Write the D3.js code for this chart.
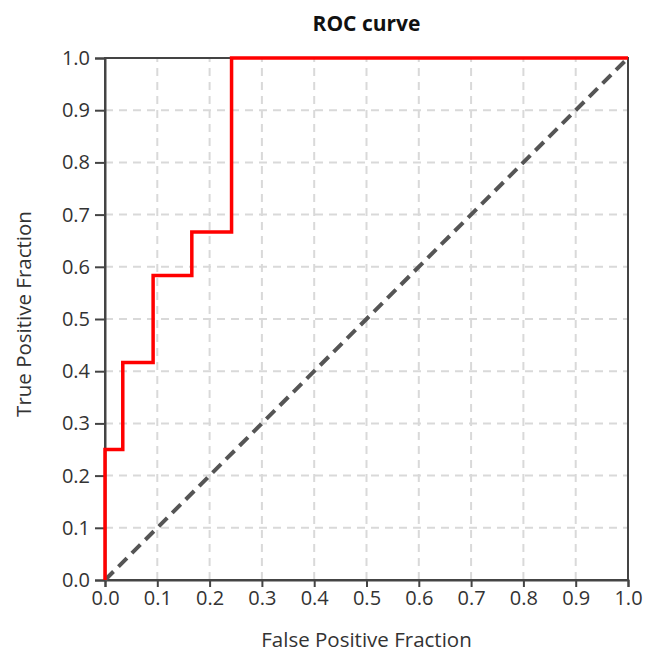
<!DOCTYPE html>
<html><head><meta charset="utf-8">
<script src="https://cdn.jsdelivr.net/npm/d3@7"></script>
<style>body{margin:0;background:#fff;} text{font-family:"Open Sans","Noto Sans",sans-serif;}</style>
</head><body>
<script>
const fpr = [0, 0, 0.034, 0.034, 0.092, 0.092, 0.166, 0.166, 0.242, 0.242, 1.0];
const tpr = [0, 0.25, 0.25, 0.4167, 0.4167, 0.5833, 0.5833, 0.6667, 0.6667, 1.0, 1.0];
const chanceX = [0, 1];
const chanceY = [0, 1];
const tickValues = [0,0.1,0.2,0.3,0.4,0.5,0.6,0.7,0.8,0.9,1.0];
const titleText = "ROC curve";
const xLabel = "False Positive Fraction";
const yLabel = "True Positive Fraction";

const W = 645, H = 653;
const m = {left:105, right:17, top:58, bottom:73};
const svg = d3.select("body").append("svg").attr("width",W).attr("height",H);
const x = d3.scaleLinear().domain([0,1]).range([m.left, W-m.right]);
const y = d3.scaleLinear().domain([0,1]).range([H-m.bottom, m.top]);

// grid
const g = svg.append("g");
g.selectAll(".gx").data(tickValues.slice(1,-1)).join("line")
  .attr("x1",d=>x(d)).attr("x2",d=>x(d)).attr("y1",y(0)).attr("y2",y(1))
  .attr("stroke","#d9d9d9").attr("stroke-width",2).attr("stroke-dasharray","8,6");
g.selectAll(".gy").data(tickValues.slice(1,-1)).join("line")
  .attr("y1",d=>y(d)).attr("y2",d=>y(d)).attr("x1",x(0)).attr("x2",x(1))
  .attr("stroke","#d9d9d9").attr("stroke-width",2).attr("stroke-dasharray","8,6");

// frame
svg.append("rect").attr("x",x(0)).attr("y",y(1)).attr("width",x(1)-x(0)).attr("height",y(0)-y(1))
  .attr("fill","none").attr("stroke","#444").attr("stroke-width",2);

// axes
const fmt = d3.format(".1f");
const xAxis = svg.append("g").attr("transform",`translate(0,${y(0)})`)
  .call(d3.axisBottom(x).tickValues(tickValues).tickFormat(fmt).tickSize(7).tickPadding(4));
const yAxis = svg.append("g").attr("transform",`translate(${x(0)},0)`)
  .call(d3.axisLeft(y).tickValues(tickValues).tickFormat(fmt).tickSize(10).tickPadding(5));
[xAxis,yAxis].forEach(a=>{
  a.select(".domain").attr("stroke","#444").attr("stroke-width",2);
  a.selectAll(".tick line").attr("stroke","#444").attr("stroke-width",2);
  a.selectAll(".tick text").attr("fill","#333").style("font-size","20px").style("font-family","'Open Sans',sans-serif");
});

// chance line
svg.append("path").datum(chanceX.map((d,i)=>[d,chanceY[i]]))
  .attr("d",d3.line().x(d=>x(d[0])).y(d=>y(d[1])))
  .attr("stroke","#555").attr("stroke-width",4).attr("stroke-dasharray","12,7").attr("fill","none");

// ROC
svg.append("path").datum(fpr.map((d,i)=>[d,tpr[i]]))
  .attr("d",d3.line().x(d=>x(d[0])).y(d=>y(d[1])))
  .attr("stroke","#ff0000").attr("stroke-width",3.5).attr("fill","none").attr("stroke-linejoin","miter");

// labels
svg.append("text").attr("x",(x(0)+x(1))/2).attr("y",31).attr("text-anchor","middle")
  .style("font-size","21px").style("font-weight","bold").attr("fill","#111").text(titleText);
svg.append("text").attr("x",(x(0)+x(1))/2).attr("y",647).attr("text-anchor","middle")
  .style("font-size","20.5px").attr("fill","#333").text(xLabel);
svg.append("text").attr("transform",`translate(31,${(y(0)+y(1))/2 - 5}) rotate(-90)`).attr("text-anchor","middle")
  .style("font-size","20.5px").attr("fill","#333").text(yLabel);
</script>
</body></html>
